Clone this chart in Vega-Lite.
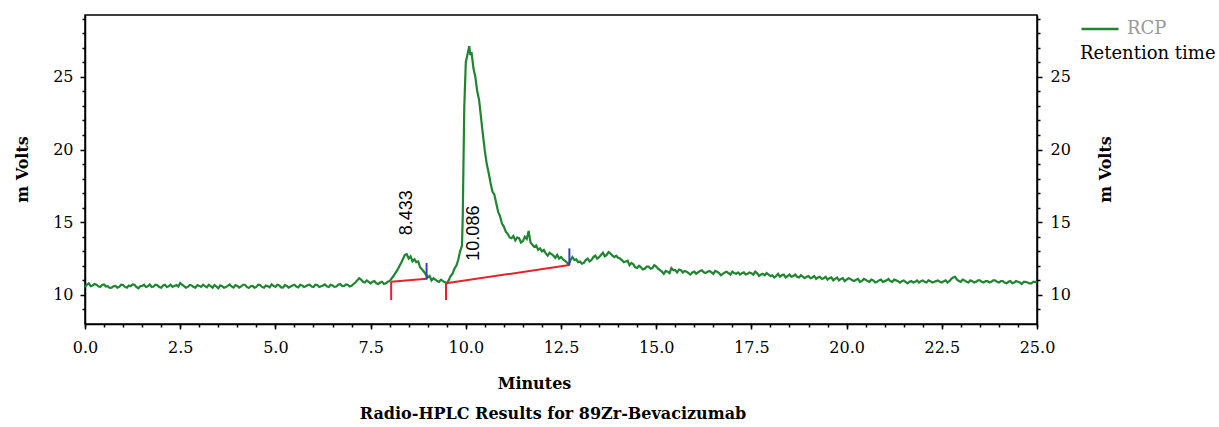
{
  "$schema": "https://vega.github.io/schema/vega-lite/v6.json",
  "width": 952,
  "height": 309,
  "autosize": {"type": "none"},
  "padding": {"left": 85, "top": 15, "right": 182, "bottom": 103},
  "background": "white",
  "title": {
    "text": "Radio-HPLC Results for 89Zr-Bevacizumab",
    "orient": "bottom",
    "anchor": "middle",
    "dx": -8,
    "offset": 15,
    "font": "DejaVu Serif",
    "fontSize": 16,
    "fontWeight": "bold",
    "color": "black"
  },
  "config": {
    "view": {"stroke": "black", "strokeWidth": 1.5},
    "axis": {
      "labelFont": "DejaVu Serif",
      "labelFontSize": 16,
      "labelColor": "black",
      "labelFlush": false,
      "titleFont": "DejaVu Serif",
      "titleFontSize": 16,
      "titleFontWeight": "bold",
      "titleColor": "black",
      "domainColor": "black",
      "domainWidth": 1.5,
      "tickColor": "black",
      "tickWidth": 1.5,
      "grid": false
    },
    "legend": {
      "labelFont": "DejaVu Serif",
      "titleFont": "DejaVu Serif"
    }
  },
  "datasets": {
    "trace": [
      {"t": 0.0, "mv": 10.55}, {"t": 0.1, "mv": 10.8}, {"t": 0.2, "mv": 10.65}, {"t": 0.3, "mv": 10.7}, {"t": 0.4, "mv": 10.55},
      {"t": 0.5, "mv": 10.72}, {"t": 0.6, "mv": 10.6}, {"t": 0.7, "mv": 10.5}, {"t": 0.8, "mv": 10.62}, {"t": 0.9, "mv": 10.55},
      {"t": 1.0, "mv": 10.68}, {"t": 1.1, "mv": 10.5}, {"t": 1.2, "mv": 10.6}, {"t": 1.3, "mv": 10.7}, {"t": 1.4, "mv": 10.45},
      {"t": 1.5, "mv": 10.62}, {"t": 1.6, "mv": 10.55}, {"t": 1.7, "mv": 10.72}, {"t": 1.8, "mv": 10.58}, {"t": 1.9, "mv": 10.66},
      {"t": 2.0, "mv": 10.5}, {"t": 2.1, "mv": 10.7}, {"t": 2.2, "mv": 10.6}, {"t": 2.3, "mv": 10.55}, {"t": 2.4, "mv": 10.68},
      {"t": 2.5, "mv": 10.82}, {"t": 2.6, "mv": 10.6}, {"t": 2.7, "mv": 10.55}, {"t": 2.8, "mv": 10.65}, {"t": 2.9, "mv": 10.5},
      {"t": 3.0, "mv": 10.62}, {"t": 3.1, "mv": 10.7}, {"t": 3.2, "mv": 10.52}, {"t": 3.3, "mv": 10.6}, {"t": 3.4, "mv": 10.68},
      {"t": 3.5, "mv": 10.45}, {"t": 3.6, "mv": 10.6}, {"t": 3.7, "mv": 10.55}, {"t": 3.8, "mv": 10.72}, {"t": 3.9, "mv": 10.5},
      {"t": 4.0, "mv": 10.62}, {"t": 4.1, "mv": 10.58}, {"t": 4.2, "mv": 10.7}, {"t": 4.3, "mv": 10.48}, {"t": 4.4, "mv": 10.62},
      {"t": 4.5, "mv": 10.55}, {"t": 4.6, "mv": 10.68}, {"t": 4.7, "mv": 10.5}, {"t": 4.8, "mv": 10.6}, {"t": 4.9, "mv": 10.72},
      {"t": 5.0, "mv": 10.55}, {"t": 5.1, "mv": 10.65}, {"t": 5.2, "mv": 10.5}, {"t": 5.3, "mv": 10.62}, {"t": 5.4, "mv": 10.58},
      {"t": 5.5, "mv": 10.7}, {"t": 5.6, "mv": 10.52}, {"t": 5.7, "mv": 10.65}, {"t": 5.8, "mv": 10.6}, {"t": 5.9, "mv": 10.7},
      {"t": 6.0, "mv": 10.55}, {"t": 6.1, "mv": 10.68}, {"t": 6.2, "mv": 10.6}, {"t": 6.3, "mv": 10.72}, {"t": 6.4, "mv": 10.55},
      {"t": 6.5, "mv": 10.65}, {"t": 6.6, "mv": 10.58}, {"t": 6.7, "mv": 10.75}, {"t": 6.8, "mv": 10.6}, {"t": 6.9, "mv": 10.7},
      {"t": 7.0, "mv": 10.62}, {"t": 7.1, "mv": 10.85}, {"t": 7.2, "mv": 11.15}, {"t": 7.3, "mv": 10.9}, {"t": 7.4, "mv": 11.0},
      {"t": 7.5, "mv": 10.8}, {"t": 7.6, "mv": 10.95}, {"t": 7.7, "mv": 10.75}, {"t": 7.8, "mv": 10.9}, {"t": 7.9, "mv": 10.8},
      {"t": 8.0, "mv": 10.95}, {"t": 8.1, "mv": 11.3}, {"t": 8.2, "mv": 11.7}, {"t": 8.3, "mv": 12.2}, {"t": 8.4, "mv": 12.75},
      {"t": 8.45, "mv": 12.8}, {"t": 8.5, "mv": 12.5}, {"t": 8.55, "mv": 12.65}, {"t": 8.6, "mv": 12.3}, {"t": 8.65, "mv": 12.45}, {"t": 8.7, "mv": 12.25}, {"t": 8.75, "mv": 12.3}, {"t": 8.8, "mv": 11.9},
      {"t": 8.9, "mv": 11.6}, {"t": 9.0, "mv": 11.2}, {"t": 9.05, "mv": 11.3}, {"t": 9.1, "mv": 11.0}, {"t": 9.15, "mv": 11.15}, {"t": 9.2, "mv": 11.05}, {"t": 9.25, "mv": 10.95}, {"t": 9.3, "mv": 10.9},
      {"t": 9.35, "mv": 11.05}, {"t": 9.4, "mv": 10.95}, {"t": 9.5, "mv": 10.8}, {"t": 9.55, "mv": 11.0}, {"t": 9.6, "mv": 11.3}, {"t": 9.65, "mv": 11.45}, {"t": 9.7, "mv": 11.8}, {"t": 9.75, "mv": 12.0}, {"t": 9.8, "mv": 12.4},
      {"t": 9.85, "mv": 13.0}, {"t": 9.9, "mv": 13.4}, {"t": 9.92, "mv": 15.4}, {"t": 9.94, "mv": 19.2}, {"t": 9.96, "mv": 22.9},
      {"t": 10.0, "mv": 26.0}, {"t": 10.05, "mv": 26.6}, {"t": 10.09, "mv": 27.1}, {"t": 10.12, "mv": 26.5}, {"t": 10.15, "mv": 26.7},
      {"t": 10.2, "mv": 25.6}, {"t": 10.25, "mv": 25.0}, {"t": 10.3, "mv": 24.0}, {"t": 10.35, "mv": 23.4}, {"t": 10.4, "mv": 22.2},
      {"t": 10.45, "mv": 21.0}, {"t": 10.5, "mv": 19.9}, {"t": 10.55, "mv": 19.0}, {"t": 10.6, "mv": 18.4}, {"t": 10.65, "mv": 17.7},
      {"t": 10.7, "mv": 17.1}, {"t": 10.75, "mv": 16.9}, {"t": 10.8, "mv": 16.3}, {"t": 10.85, "mv": 15.7}, {"t": 10.9, "mv": 15.4}, {"t": 10.95, "mv": 14.9}, {"t": 11.0, "mv": 14.7}, {"t": 11.05, "mv": 14.35}, {"t": 11.1, "mv": 14.2},
      {"t": 11.15, "mv": 13.95}, {"t": 11.2, "mv": 13.9}, {"t": 11.25, "mv": 14.05}, {"t": 11.3, "mv": 13.75}, {"t": 11.35, "mv": 13.95}, {"t": 11.4, "mv": 13.9}, {"t": 11.45, "mv": 13.6}, {"t": 11.5, "mv": 13.7}, {"t": 11.55, "mv": 14.0}, {"t": 11.6, "mv": 13.85},
      {"t": 11.65, "mv": 14.4}, {"t": 11.7, "mv": 13.6}, {"t": 11.75, "mv": 13.45}, {"t": 11.8, "mv": 13.3}, {"t": 11.85, "mv": 13.4}, {"t": 11.9, "mv": 13.1}, {"t": 11.95, "mv": 13.2}, {"t": 12.0, "mv": 13.0},
      {"t": 12.05, "mv": 13.1}, {"t": 12.1, "mv": 12.85}, {"t": 12.15, "mv": 12.7}, {"t": 12.2, "mv": 12.9}, {"t": 12.25, "mv": 12.8}, {"t": 12.3, "mv": 12.7}, {"t": 12.35, "mv": 12.55}, {"t": 12.4, "mv": 12.75}, {"t": 12.45, "mv": 12.5}, {"t": 12.5, "mv": 12.6},
      {"t": 12.55, "mv": 12.45}, {"t": 12.6, "mv": 12.35}, {"t": 12.65, "mv": 12.25}, {"t": 12.7, "mv": 12.1}, {"t": 12.75, "mv": 12.4}, {"t": 12.8, "mv": 12.6}, {"t": 12.85, "mv": 12.4}, {"t": 12.9, "mv": 12.45}, {"t": 12.95, "mv": 12.25}, {"t": 13.0, "mv": 12.3},
      {"t": 13.05, "mv": 12.15}, {"t": 13.1, "mv": 12.2}, {"t": 13.15, "mv": 12.4}, {"t": 13.2, "mv": 12.5}, {"t": 13.25, "mv": 12.3}, {"t": 13.3, "mv": 12.4}, {"t": 13.35, "mv": 12.6}, {"t": 13.4, "mv": 12.7}, {"t": 13.45, "mv": 12.5}, {"t": 13.5, "mv": 12.6},
      {"t": 13.55, "mv": 12.75}, {"t": 13.6, "mv": 12.9}, {"t": 13.65, "mv": 12.65}, {"t": 13.7, "mv": 12.75}, {"t": 13.75, "mv": 12.95}, {"t": 13.8, "mv": 12.85}, {"t": 13.85, "mv": 12.7}, {"t": 13.9, "mv": 12.6}, {"t": 13.95, "mv": 12.7}, {"t": 14.0, "mv": 12.55},
      {"t": 14.1, "mv": 12.4}, {"t": 14.2, "mv": 12.3}, {"t": 14.3, "mv": 12.05}, {"t": 14.4, "mv": 12.1}, {"t": 14.5, "mv": 11.85},
      {"t": 14.6, "mv": 11.9}, {"t": 14.7, "mv": 11.8}, {"t": 14.8, "mv": 11.95}, {"t": 14.9, "mv": 11.85}, {"t": 15.0, "mv": 11.95},
      {"t": 15.1, "mv": 11.7}, {"t": 15.2, "mv": 11.45}, {"t": 15.3, "mv": 11.6}, {"t": 15.4, "mv": 11.85}, {"t": 15.5, "mv": 11.7},
      {"t": 15.6, "mv": 11.75}, {"t": 15.7, "mv": 11.55}, {"t": 15.8, "mv": 11.6}, {"t": 15.9, "mv": 11.4}, {"t": 16.0, "mv": 11.6},
      {"t": 16.1, "mv": 11.55}, {"t": 16.2, "mv": 11.7}, {"t": 16.3, "mv": 11.5}, {"t": 16.4, "mv": 11.65}, {"t": 16.5, "mv": 11.45},
      {"t": 16.6, "mv": 11.6}, {"t": 16.7, "mv": 11.35}, {"t": 16.8, "mv": 11.55}, {"t": 16.9, "mv": 11.5}, {"t": 17.0, "mv": 11.6},
      {"t": 17.1, "mv": 11.45}, {"t": 17.2, "mv": 11.4}, {"t": 17.3, "mv": 11.55}, {"t": 17.4, "mv": 11.45}, {"t": 17.5, "mv": 11.5},
      {"t": 17.6, "mv": 11.6}, {"t": 17.7, "mv": 11.3}, {"t": 17.8, "mv": 11.45}, {"t": 17.9, "mv": 11.5}, {"t": 18.0, "mv": 11.3},
      {"t": 18.1, "mv": 11.2}, {"t": 18.2, "mv": 11.45}, {"t": 18.3, "mv": 11.35}, {"t": 18.4, "mv": 11.2}, {"t": 18.5, "mv": 11.4},
      {"t": 18.6, "mv": 11.3}, {"t": 18.7, "mv": 11.25}, {"t": 18.8, "mv": 11.35}, {"t": 18.9, "mv": 11.15}, {"t": 19.0, "mv": 11.3},
      {"t": 19.1, "mv": 11.2}, {"t": 19.2, "mv": 11.1}, {"t": 19.3, "mv": 11.25}, {"t": 19.4, "mv": 11.15}, {"t": 19.5, "mv": 11.05},
      {"t": 19.6, "mv": 11.2}, {"t": 19.7, "mv": 11.1}, {"t": 19.8, "mv": 11.0}, {"t": 19.9, "mv": 11.15}, {"t": 20.0, "mv": 11.05},
      {"t": 20.1, "mv": 11.1}, {"t": 20.2, "mv": 10.95}, {"t": 20.3, "mv": 11.1}, {"t": 20.4, "mv": 10.95}, {"t": 20.5, "mv": 11.05},
      {"t": 20.6, "mv": 10.9}, {"t": 20.7, "mv": 11.0}, {"t": 20.8, "mv": 10.9}, {"t": 20.9, "mv": 11.05}, {"t": 21.0, "mv": 10.95},
      {"t": 21.1, "mv": 11.1}, {"t": 21.2, "mv": 10.9}, {"t": 21.3, "mv": 11.0}, {"t": 21.4, "mv": 10.85}, {"t": 21.5, "mv": 11.0},
      {"t": 21.6, "mv": 10.8}, {"t": 21.7, "mv": 10.95}, {"t": 21.8, "mv": 10.9}, {"t": 21.9, "mv": 10.85}, {"t": 22.0, "mv": 11.0},
      {"t": 22.1, "mv": 10.85}, {"t": 22.2, "mv": 10.95}, {"t": 22.3, "mv": 10.9}, {"t": 22.4, "mv": 11.0}, {"t": 22.5, "mv": 10.85},
      {"t": 22.6, "mv": 11.0}, {"t": 22.7, "mv": 10.95}, {"t": 22.8, "mv": 11.2}, {"t": 22.9, "mv": 11.05}, {"t": 23.0, "mv": 10.9},
      {"t": 23.1, "mv": 11.0}, {"t": 23.2, "mv": 10.85}, {"t": 23.3, "mv": 10.95}, {"t": 23.4, "mv": 10.9}, {"t": 23.5, "mv": 11.0},
      {"t": 23.6, "mv": 10.85}, {"t": 23.7, "mv": 10.95}, {"t": 23.8, "mv": 10.9}, {"t": 23.9, "mv": 11.0}, {"t": 24.0, "mv": 10.85},
      {"t": 24.1, "mv": 10.95}, {"t": 24.2, "mv": 10.8}, {"t": 24.3, "mv": 10.95}, {"t": 24.4, "mv": 10.85}, {"t": 24.5, "mv": 10.9},
      {"t": 24.6, "mv": 10.75}, {"t": 24.7, "mv": 10.9}, {"t": 24.8, "mv": 10.8}, {"t": 24.9, "mv": 10.9}, {"t": 25.0, "mv": 10.85},
      {"t": 0.05, "mv": 10.7}, {"t": 0.15, "mv": 10.6}, {"t": 0.25, "mv": 10.75}, {"t": 0.35, "mv": 10.6}, {"t": 0.45, "mv": 10.68},
      {"t": 0.55, "mv": 10.58}, {"t": 0.65, "mv": 10.48}, {"t": 0.75, "mv": 10.6}, {"t": 0.85, "mv": 10.5}, {"t": 0.95, "mv": 10.7},
      {"t": 1.05, "mv": 10.55}, {"t": 1.15, "mv": 10.65}, {"t": 1.25, "mv": 10.72}, {"t": 1.35, "mv": 10.55}, {"t": 1.45, "mv": 10.6},
      {"t": 1.55, "mv": 10.7}, {"t": 1.65, "mv": 10.6}, {"t": 1.75, "mv": 10.55}, {"t": 1.85, "mv": 10.7}, {"t": 1.95, "mv": 10.55},
      {"t": 2.05, "mv": 10.65}, {"t": 2.15, "mv": 10.55}, {"t": 2.25, "mv": 10.7}, {"t": 2.35, "mv": 10.62}, {"t": 2.45, "mv": 10.58},
      {"t": 2.55, "mv": 10.7}, {"t": 2.65, "mv": 10.5}, {"t": 2.75, "mv": 10.68}, {"t": 2.85, "mv": 10.55}, {"t": 2.95, "mv": 10.68},
      {"t": 3.05, "mv": 10.55}, {"t": 3.15, "mv": 10.6}, {"t": 3.25, "mv": 10.7}, {"t": 3.35, "mv": 10.5}, {"t": 3.45, "mv": 10.58},
      {"t": 3.55, "mv": 10.65}, {"t": 3.65, "mv": 10.5}, {"t": 3.75, "mv": 10.62}, {"t": 3.85, "mv": 10.58}, {"t": 3.95, "mv": 10.68},
      {"t": 4.05, "mv": 10.5}, {"t": 4.15, "mv": 10.7}, {"t": 4.25, "mv": 10.55}, {"t": 4.35, "mv": 10.6}, {"t": 4.45, "mv": 10.5},
      {"t": 4.55, "mv": 10.7}, {"t": 4.65, "mv": 10.55}, {"t": 4.75, "mv": 10.65}, {"t": 4.85, "mv": 10.52}, {"t": 4.95, "mv": 10.62},
      {"t": 5.05, "mv": 10.7}, {"t": 5.15, "mv": 10.52}, {"t": 5.25, "mv": 10.68}, {"t": 5.35, "mv": 10.5}, {"t": 5.45, "mv": 10.65},
      {"t": 5.55, "mv": 10.58}, {"t": 5.65, "mv": 10.7}, {"t": 5.75, "mv": 10.55}, {"t": 5.85, "mv": 10.68}, {"t": 5.95, "mv": 10.58},
      {"t": 6.05, "mv": 10.7}, {"t": 6.15, "mv": 10.55}, {"t": 6.25, "mv": 10.65}, {"t": 6.35, "mv": 10.6}, {"t": 6.45, "mv": 10.7},
      {"t": 6.55, "mv": 10.55}, {"t": 6.65, "mv": 10.7}, {"t": 6.75, "mv": 10.62}, {"t": 6.85, "mv": 10.72}, {"t": 6.95, "mv": 10.58},
      {"t": 7.05, "mv": 10.75}, {"t": 7.15, "mv": 11.0}, {"t": 7.25, "mv": 11.05}, {"t": 7.35, "mv": 10.85}, {"t": 7.45, "mv": 10.9},
      {"t": 7.55, "mv": 10.9}, {"t": 7.65, "mv": 10.8}, {"t": 7.75, "mv": 10.85}, {"t": 7.85, "mv": 10.75}, {"t": 7.95, "mv": 10.9},
      {"t": 14.05, "mv": 12.5}, {"t": 14.15, "mv": 12.25}, {"t": 14.25, "mv": 12.35}, {"t": 14.35, "mv": 12.2}, {"t": 14.45, "mv": 11.9},
      {"t": 14.55, "mv": 12.0}, {"t": 14.65, "mv": 11.75}, {"t": 14.75, "mv": 11.95}, {"t": 14.85, "mv": 11.8}, {"t": 14.95, "mv": 12.05},
      {"t": 15.05, "mv": 11.8}, {"t": 15.15, "mv": 11.6}, {"t": 15.25, "mv": 11.65}, {"t": 15.35, "mv": 11.5}, {"t": 15.45, "mv": 11.7},
      {"t": 15.55, "mv": 11.55}, {"t": 15.65, "mv": 11.7}, {"t": 15.75, "mv": 11.65}, {"t": 15.85, "mv": 11.5}, {"t": 15.95, "mv": 11.55},
      {"t": 16.05, "mv": 11.45}, {"t": 16.15, "mv": 11.65}, {"t": 16.25, "mv": 11.55}, {"t": 16.35, "mv": 11.6}, {"t": 16.45, "mv": 11.55},
      {"t": 16.55, "mv": 11.65}, {"t": 16.65, "mv": 11.5}, {"t": 16.75, "mv": 11.45}, {"t": 16.85, "mv": 11.6}, {"t": 16.95, "mv": 11.4},
      {"t": 17.05, "mv": 11.5}, {"t": 17.15, "mv": 11.55}, {"t": 17.25, "mv": 11.5}, {"t": 17.35, "mv": 11.4}, {"t": 17.45, "mv": 11.55},
      {"t": 17.55, "mv": 11.4}, {"t": 17.65, "mv": 11.5}, {"t": 17.75, "mv": 11.4}, {"t": 17.85, "mv": 11.35}, {"t": 17.95, "mv": 11.4},
      {"t": 18.05, "mv": 11.35}, {"t": 18.15, "mv": 11.3}, {"t": 18.25, "mv": 11.25}, {"t": 18.35, "mv": 11.4}, {"t": 18.45, "mv": 11.3},
      {"t": 18.55, "mv": 11.25}, {"t": 18.65, "mv": 11.4}, {"t": 18.75, "mv": 11.2}, {"t": 18.85, "mv": 11.25}, {"t": 18.95, "mv": 11.25},
      {"t": 19.05, "mv": 11.15}, {"t": 19.15, "mv": 11.3}, {"t": 19.25, "mv": 11.2}, {"t": 19.35, "mv": 11.1}, {"t": 19.45, "mv": 11.25},
      {"t": 19.55, "mv": 11.15}, {"t": 19.65, "mv": 11.0}, {"t": 19.75, "mv": 11.2}, {"t": 19.85, "mv": 11.1}, {"t": 19.95, "mv": 10.95},
      {"t": 20.05, "mv": 11.15}, {"t": 20.15, "mv": 11.0}, {"t": 20.25, "mv": 11.05}, {"t": 20.35, "mv": 10.9}, {"t": 20.45, "mv": 11.1},
      {"t": 20.55, "mv": 10.95}, {"t": 20.65, "mv": 11.05}, {"t": 20.75, "mv": 10.85}, {"t": 20.85, "mv": 11.0}, {"t": 20.95, "mv": 10.9},
      {"t": 21.05, "mv": 11.0}, {"t": 21.15, "mv": 10.95}, {"t": 21.25, "mv": 11.05}, {"t": 21.35, "mv": 10.95}, {"t": 21.45, "mv": 10.95},
      {"t": 21.55, "mv": 10.9}, {"t": 21.65, "mv": 10.9}, {"t": 21.75, "mv": 10.85}, {"t": 21.85, "mv": 11.0}, {"t": 21.95, "mv": 10.95},
      {"t": 22.05, "mv": 10.9}, {"t": 22.15, "mv": 11.0}, {"t": 22.25, "mv": 10.85}, {"t": 22.35, "mv": 10.95}, {"t": 22.45, "mv": 10.9},
      {"t": 22.55, "mv": 10.95}, {"t": 22.65, "mv": 10.85}, {"t": 22.75, "mv": 11.1}, {"t": 22.85, "mv": 11.25}, {"t": 22.95, "mv": 10.95},
      {"t": 23.05, "mv": 11.05}, {"t": 23.15, "mv": 10.9}, {"t": 23.25, "mv": 11.0}, {"t": 23.35, "mv": 10.85}, {"t": 23.45, "mv": 11.0},
      {"t": 23.55, "mv": 10.9}, {"t": 23.65, "mv": 10.95}, {"t": 23.75, "mv": 10.85}, {"t": 23.85, "mv": 11.0}, {"t": 23.95, "mv": 10.9},
      {"t": 24.05, "mv": 10.95}, {"t": 24.15, "mv": 10.85}, {"t": 24.25, "mv": 10.9}, {"t": 24.35, "mv": 10.8}, {"t": 24.45, "mv": 10.95},
      {"t": 24.55, "mv": 10.85}, {"t": 24.65, "mv": 10.9}, {"t": 24.75, "mv": 10.85}, {"t": 24.85, "mv": 10.8}, {"t": 24.95, "mv": 10.9}
    ],
    "segments": [
      {"kind": "baseline", "x": 8.04, "y": 10.9, "x2": 8.97, "y2": 11.12},
      {"kind": "baseline", "x": 8.04, "y": 10.9, "x2": 8.04, "y2": 9.65},
      {"kind": "end", "x": 8.97, "y": 11.05, "x2": 8.97, "y2": 12.2},
      {"kind": "baseline", "x": 9.48, "y": 10.8, "x2": 12.72, "y2": 12.05},
      {"kind": "baseline", "x": 9.48, "y": 10.8, "x2": 9.48, "y2": 9.65},
      {"kind": "end", "x": 12.72, "y": 12.05, "x2": 12.72, "y2": 13.2}
    ],
    "peaks": [
      {"label": "8.433", "x": 8.45, "y": 15.65},
      {"label": "10.086", "x": 10.21, "y": 14.25}
    ]
  },
  "layer": [
    {
      "data": {"name": "trace"},
      "mark": {"type": "line", "strokeWidth": 2.2, "interpolate": "linear"},
      "encoding": {
        "x": {
          "field": "t", "type": "quantitative",
          "scale": {"domain": [0, 25], "nice": false, "zero": false},
          "axis": {
            "orient": "bottom",
            "values": [0, 2.5, 5, 7.5, 10, 12.5, 15, 17.5, 20, 22.5, 25],
            "format": ".1f",
            "tickSize": 5,
            "labelPadding": 10,
            "title": "Minutes",
            "titleX": 449,
            "titleY": 64,
            "titleBaseline": "alphabetic",
            "titleAlign": "center"
          }
        },
        "y": {
          "field": "mv", "type": "quantitative",
          "scale": {"domain": [8, 29.25], "nice": false, "zero": false},
          "axis": {
            "orient": "left",
            "values": [10, 15, 20, 25],
            "tickSize": 5,
            "labelPadding": 7,
            "title": "m Volts",
            "titleAngle": 270,
            "titleX": -63,
            "titleY": 154,
            "titleAlign": "center",
            "titleBaseline": "middle"
          }
        },
        "color": {
          "datum": "RCP",
          "type": "nominal",
          "scale": {"domain": ["RCP"], "range": ["#1f8530"]},
          "legend": {
            "orient": "none",
            "legendX": 995,
            "legendY": -6,
            "title": "Retention time",
            "titleOrient": "bottom",
            "titleFontWeight": "normal",
            "titleFontSize": 18,
            "titleColor": "black",
            "titlePadding": 7,
            "labelFontSize": 18,
            "labelColor": "#999999",
            "labelOffset": 7,
            "symbolType": "stroke",
            "symbolSize": 1369,
            "symbolStrokeWidth": 2.5,
            "padding": 0
          }
        }
      }
    },
    {
      "data": {"name": "trace"},
      "mark": {"type": "line", "strokeOpacity": 0},
      "encoding": {
        "x": {
          "field": "t", "type": "quantitative",
          "scale": {"domain": [0, 25], "nice": false, "zero": false},
          "axis": {
            "orient": "bottom",
            "values": [0, 0.5, 1, 1.5, 2, 2.5, 3, 3.5, 4, 4.5, 5, 5.5, 6, 6.5, 7, 7.5, 8, 8.5, 9, 9.5, 10, 10.5, 11, 11.5, 12, 12.5, 13, 13.5, 14, 14.5, 15, 15.5, 16, 16.5, 17, 17.5, 18, 18.5, 19, 19.5, 20, 20.5, 21, 21.5, 22, 22.5, 23, 23.5, 24, 24.5, 25],
            "labels": false,
            "domain": false,
            "tickSize": 3,
            "title": null
          }
        },
        "y": {
          "field": "mv", "type": "quantitative",
          "scale": {"domain": [8, 29.25], "nice": false, "zero": false},
          "axis": {
            "orient": "right",
            "values": [10, 15, 20, 25],
            "tickSize": 5,
            "labelPadding": 8,
            "title": "m Volts",
            "titleAngle": 270,
            "titleX": 68,
            "titleY": 154,
            "titleAlign": "center",
            "titleBaseline": "middle"
          }
        }
      }
    },
    {
      "data": {"name": "trace"},
      "mark": {"type": "line", "strokeOpacity": 0},
      "encoding": {
        "x": {"field": "t", "type": "quantitative", "scale": {"domain": [0, 25], "nice": false, "zero": false}, "axis": null},
        "y": {
          "field": "mv", "type": "quantitative",
          "scale": {"domain": [8, 29.25], "nice": false, "zero": false},
          "axis": {
            "orient": "left",
            "values": [9, 11, 12, 13, 14, 16, 17, 18, 19, 21, 22, 23, 24, 26, 27, 28, 29],
            "labels": false,
            "domain": false,
            "tickSize": 3,
            "title": null
          }
        }
      }
    },
    {
      "data": {"name": "trace"},
      "mark": {"type": "line", "strokeOpacity": 0},
      "encoding": {
        "x": {"field": "t", "type": "quantitative", "scale": {"domain": [0, 25], "nice": false, "zero": false}, "axis": null},
        "y": {
          "field": "mv", "type": "quantitative",
          "scale": {"domain": [8, 29.25], "nice": false, "zero": false},
          "axis": {
            "orient": "right",
            "values": [9, 11, 12, 13, 14, 16, 17, 18, 19, 21, 22, 23, 24, 26, 27, 28, 29],
            "labels": false,
            "domain": false,
            "tickSize": 3,
            "title": null
          }
        }
      }
    },
    {
      "data": {"name": "segments"},
      "transform": [{"filter": "datum.kind === 'baseline'"}],
      "mark": {"type": "rule", "color": "#e8222a", "strokeWidth": 2},
      "encoding": {
        "x": {"field": "x", "type": "quantitative", "scale": {"domain": [0, 25], "nice": false, "zero": false}, "axis": null},
        "y": {"field": "y", "type": "quantitative", "scale": {"domain": [8, 29.25], "nice": false, "zero": false}, "axis": null},
        "x2": {"field": "x2"},
        "y2": {"field": "y2"}
      }
    },
    {
      "data": {"name": "segments"},
      "transform": [{"filter": "datum.kind === 'end'"}],
      "mark": {"type": "rule", "color": "#3a40b5", "strokeWidth": 2},
      "encoding": {
        "x": {"field": "x", "type": "quantitative", "scale": {"domain": [0, 25], "nice": false, "zero": false}, "axis": null},
        "y": {"field": "y", "type": "quantitative", "scale": {"domain": [8, 29.25], "nice": false, "zero": false}, "axis": null},
        "x2": {"field": "x2"},
        "y2": {"field": "y2"}
      }
    },
    {
      "data": {"name": "peaks"},
      "mark": {"type": "text", "angle": 270, "align": "center", "baseline": "middle", "font": "Liberation Sans", "fontSize": 18, "color": "black"},
      "encoding": {
        "x": {"field": "x", "type": "quantitative", "scale": {"domain": [0, 25], "nice": false, "zero": false}, "axis": null},
        "y": {"field": "y", "type": "quantitative", "scale": {"domain": [8, 29.25], "nice": false, "zero": false}, "axis": null},
        "text": {"field": "label"}
      }
    }
  ],
  "resolve": {"axis": {"x": "independent", "y": "independent"}}
}
